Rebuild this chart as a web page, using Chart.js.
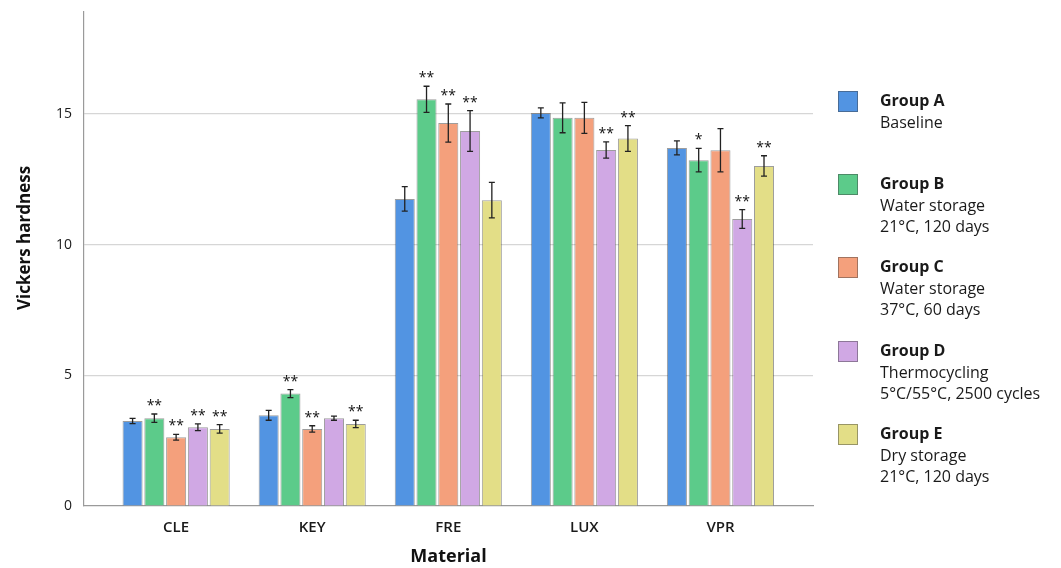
<!DOCTYPE html>
<html>
<head>
<meta charset="utf-8">
<script src="https://cdn.jsdelivr.net/npm/chart.js@4.4.0/dist/chart.umd.min.js"></script>
<style>
  html, body { margin: 0; padding: 0; background: #fff; }
  #wrap { position: relative; width: 1061px; height: 568px; }
  #legend { position: absolute; left: 838px; top: 0; font-family: 'Open Sans', sans-serif; color: #1a1a1a; }
  .item { position: absolute; left: 0; width: 222px; }
  .sw { position: absolute; left: 0; top: 0; width: 20px; height: 21px; box-sizing: border-box; border: 1px solid rgba(60,60,60,0.45); }
  .txt { position: absolute; left: 42px; top: -1px; font-size: 16px; line-height: 21.5px; white-space: nowrap; }
  .txt b { font-weight: 700; }
</style>
</head>
<body>
<div id="wrap">
  <canvas id="chart"></canvas>
  <div id="legend"></div>
</div>
<script>
// categories and groups
var materials = ['CLE', 'KEY', 'FRE', 'LUX', 'VPR'];
var groups = ['Group A', 'Group B', 'Group C', 'Group D', 'Group E'];
var groupNotes = [
    ['Baseline'],
    ['Water storage', '21°C, 120 days'],
    ['Water storage', '37°C, 60 days'],
    ['Thermocycling', '5°C/55°C, 2500 cycles'],
    ['Dry storage', '21°C, 120 days']
];

// mean values (Vickers hardness)
var groupA = [3.25, 3.47, 11.75, 15.04, 13.70];
var groupB = [3.36, 4.30, 15.56, 14.85, 13.23];
var groupC = [2.63, 2.95, 14.65, 14.85, 13.61];
var groupD = [3.01, 3.36, 14.35, 13.62, 10.98];
var groupE = [2.95, 3.14, 11.70, 14.06, 13.01];

// error bar half widths
var errA = [0.10, 0.19, 0.47, 0.19, 0.27];
var errB = [0.16, 0.15, 0.50, 0.57, 0.45];
var errC = [0.11, 0.12, 0.73, 0.59, 0.83];
var errD = [0.13, 0.08, 0.78, 0.31, 0.36];
var errE = [0.16, 0.14, 0.68, 0.49, 0.39];

// significance marks
var sigA = ['', '', '', '', ''];
var sigB = ['**', '**', '**', '', '*'];
var sigC = ['**', '**', '**', '', ''];
var sigD = ['**', '', '**', '**', '**'];
var sigE = ['**', '**', '', '**', '**'];

var yTicks = [0, 5, 10, 15];

var colors = ['#5294e2', '#5ccb8a', '#f4a07c', '#d0a8e4', '#e3de87'];
var values = [groupA, groupB, groupC, groupD, groupE];
var errors = [errA, errB, errC, errD, errE];
var sigs = [sigA, sigB, sigC, sigD, sigE];

Chart.defaults.font.family = "'Open Sans', sans-serif";
Chart.defaults.color = '#1a1a1a';

var datasets = groups.map(function(g, k) {
    return {
        label: g,
        data: materials.map(function(m, i) { return { x: i, y: values[k][i] }; }),
        backgroundColor: colors[k],
        borderColor: 'rgba(60,60,60,0.5)',
        borderWidth: 1,
        categoryPercentage: 0.8,
        barPercentage: 0.92,
        errors: errors[k],
        sig: sigs[k]
    };
});

// error bars + stars
var errorBarPlugin = {
    id: 'errorBars',
    afterDatasetsDraw: function(chart) {
        var ctx = chart.ctx;
        var ys = chart.scales.y;
        ctx.save();
        ctx.strokeStyle = '#222';
        ctx.lineWidth = 1.3;
        ctx.fillStyle = '#111';
        ctx.font = "14px 'Open Sans', sans-serif";
        ctx.textAlign = 'center';
        ctx.textBaseline = 'alphabetic';
        chart.data.datasets.forEach(function(ds, di) {
            var meta = chart.getDatasetMeta(di);
            meta.data.forEach(function(bar, i) {
                var v = ds.data[i].y;
                var e = ds.errors[i];
                var top = ys.getPixelForValue(v + e);
                var bot = ys.getPixelForValue(v - e);
                var x = bar.x;
                ctx.beginPath();
                ctx.moveTo(x, top); ctx.lineTo(x, bot);
                ctx.moveTo(x - 3, top); ctx.lineTo(x + 3, top);
                ctx.moveTo(x - 3, bot); ctx.lineTo(x + 3, bot);
                ctx.stroke();
                if (ds.sig[i]) ctx.fillText(ds.sig[i], x, top - 4);
            });
        });
        ctx.restore();
    },
    // y title sits a bit above the axis middle, as in the original
    afterDraw: function(chart) {
        var ctx = chart.ctx;
        ctx.save();
        ctx.translate(25, 238);
        ctx.rotate(-Math.PI / 2);
        ctx.fillStyle = '#111';
        ctx.font = "bold 17px 'Open Sans', sans-serif";
        ctx.textAlign = 'center';
        ctx.textBaseline = 'middle';
        ctx.fillText('Vickers hardness', 0, 0);
        ctx.restore();
    }
};

var ctx = document.getElementById('chart').getContext('2d');
new Chart(ctx, {
    type: 'bar',
    data: { datasets: datasets },
    plugins: [errorBarPlugin],
    options: {
        responsive: true,
        maintainAspectRatio: false,
        animation: false,
        layout: { padding: { top: 12, right: 248, left: 0, bottom: 0 } },
        plugins: { legend: { display: false }, tooltip: { enabled: false } },
        scales: {
            x: {
                type: 'linear',
                min: -0.677,
                max: 4.68,
                offset: false,
                grid: { display: false },
                border: { color: '#9a9a9a', width: 1.2 },
                ticks: {
                    stepSize: 1,
                    autoSkip: false,
                    maxRotation: 0,
                    padding: 5,
                    color: '#1a1a1a',
                    font: { size: 15, weight: '600' },
                    callback: function(v) { return materials[v] || ''; }
                },
                afterBuildTicks: function(s) {
                    s.ticks = s.ticks.filter(function(t) { return Number.isInteger(t.value); });
                },
                afterFit: function(s) { s.height = 62; s.paddingLeft = 0; s.paddingRight = 0; },
                title: {
                    display: true,
                    text: 'Material',
                    color: '#111',
                    font: { size: 18, weight: 'bold' },
                    padding: { top: 0, bottom: 0 }
                }
            },
            y: {
                min: 0,
                max: 18.9,
                grid: {
                    drawTicks: false,
                    color: function(c) { return c.tick && c.tick.value === 0 ? 'rgba(0,0,0,0)' : '#d6d6d6'; },
                    lineWidth: 1.2
                },
                border: { color: '#9a9a9a', width: 1.2 },
                ticks: {
                    stepSize: 5,
                    padding: 12,
                    color: '#1a1a1a',
                    font: { size: 14 }
                },
                afterBuildTicks: function(s) {
                    s.ticks = s.ticks.filter(function(t) { return yTicks.indexOf(t.value) !== -1; });
                },
                afterFit: function(s) { s.width = 84; s.paddingTop = 0; s.paddingBottom = 0; },
                title: { display: false }
            }
        }
    }
});

// legend (HTML)
var legend = document.getElementById('legend');
groups.forEach(function(g, k) {
    var item = document.createElement('div');
    item.className = 'item';
    item.style.top = Math.round(91 + k * 83.2) + 'px';
    item.innerHTML = '<div class="sw" style="background:' + colors[k] + '"></div>' +
        '<div class="txt"><b>' + g + '</b><br>' + groupNotes[k].join('<br>') + '</div>';
    legend.appendChild(item);
});
</script>
</body>
</html>
